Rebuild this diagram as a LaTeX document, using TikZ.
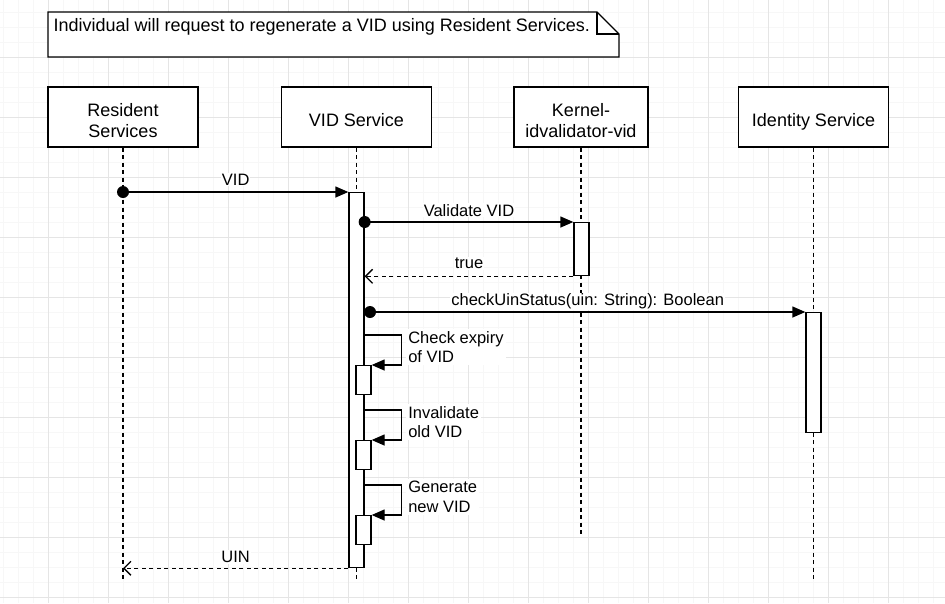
\documentclass[tikz,border=0pt]{standalone}
\usepackage{fontspec}
\setmainfont{Liberation Sans}
\usetikzlibrary{positioning}
\usetikzlibrary{arrows.meta}

\begin{document}
\begin{tikzpicture}[x=1pt,y=-1pt,node distance=10mm,on grid,line width=1.3pt,
		head/.style={rectangle,draw=black,fill=white,minimum width=150pt,minimum height=60pt,align=center,font=\fontsize{18pt}{21pt}\selectfont},
		oneline/.style={text height=18pt,text depth=0pt},
		twoline/.style={text height=41pt,text depth=0pt},
		act/.style={rectangle,draw=black,fill=white,minimum width=15pt,inner sep=0pt,anchor=north},
		life/.style={dash pattern=on 4pt off 3.5pt},
		call/.style={-{Triangle[length=13pt,width=11pt]}},
		reply/.style={dash pattern=on 4pt off 3.5pt,-{Straight Barb[length=7pt,width=14pt]}},
		lbl/.style={font=\fontsize{16.5pt}{19.5pt}\selectfont,fill=white,inner sep=1pt}]
		\useasboundingbox (0,0) rectangle (945,603);
		% grid
		\foreach \g in {3,18,...,933} \draw[line width=0.6pt,black!3] (\g,0) -- (\g,603);
		\foreach \g in {12,27,...,597} \draw[line width=0.6pt,black!3] (0,\g) -- (945,\g);
		\foreach \g in {48,108,...,888} \draw[line width=0.7pt,black!10] (\g,0) -- (\g,603);
		\foreach \g in {57,117,...,597} \draw[line width=0.7pt,black!10] (0,\g) -- (945,\g);
		
		% note
		\draw[fill=white] (48,12) -- (597,12) -- (619,34) -- (619,57) -- (48,57) -- cycle;
		\draw (597,12) -- (597,34) -- (619,34);
		\node[anchor=north west,inner sep=0pt,font=\fontsize{18pt}{21pt}\selectfont] (note) at (53,18) {Individual will request to regenerate a VID using Resident Services.};
		
		\node[head,twoline]  (res)                 at (123,117) {Resident\\Services};
		\node[head,oneline]  (vid)  [right=233.5pt of res]  {VID Service};
		\node[head,twoline,minimum width=134pt] (kern) [right=224.5pt of vid] {Kernel-\\idvalidator-vid};
		\node[head,oneline]  (ids)  [right=232.5pt of kern] {Identity Service};
		
		\coordinate (resend)  at (123,582);
		\coordinate (vidend)  at (356.5,582);
		\coordinate (kernend) at (581,537);
		\coordinate (idsend)  at (813.5,582);
		\draw[life] (res) -- (resend);
		\draw[life] (vid) -- (vidend);
		\draw[life] (kern) -- (kernend);
		\draw[life] (ids) -- (idsend);
		
		\node[act,minimum height=375pt] (vidbar)  at (356.5,192) {};
		\node[act,minimum height=53pt]  (kernbar) at (581.5,222) {};
		\node[act,minimum height=120pt] (idsbar)  at (813.5,312) {};
		\node[act,minimum height=29pt]  (chk1)    at (363.5,365) {};
		\node[act,minimum height=29pt]  (chk2)    at (363.5,440) {};
		\node[act,minimum height=29pt]  (chk3)    at (363.5,515) {};
		
		\coordinate (m1) at (res |- vidbar.north);
		\coordinate (m2) at (vidbar.east |- kernbar.north);
		\coordinate (m3) at (vidbar.east |- kernbar.south);
		\coordinate (m4) at (370,312);
		\coordinate (m5) at (res |- vidbar.south);
		\fill (m1) circle (6pt);
		\fill (m2) circle (6pt);
		\fill (m4) circle (6pt);
		
		\path[call]
		(m1) edge node[lbl,above=5pt]{VID} (vidbar.north west)
		(m2) edge node[lbl,above=4pt]{Validate VID} (kernbar.north west)
		(m4) edge node[lbl,above=1pt]{checkUinStatus(uin: String): Boolean} (idsbar.north west);
		\path[reply]
		(kernbar.south west) edge node[lbl,above=6pt]{true} (m3)
		(vidbar.south west) edge node[lbl,above=4pt]{UIN} (m5);
		
		% self calls
		\foreach \c/\t in {chk1/{Check expiry\\of VID},chk2/{Invalidate\\old VID},chk3/{Generate\\new VID}}{
			\path (vidbar.east |- \c.north) ++(0,-30) coordinate (\c in);
			\draw[call] (\c in) -- ++(37,0) |- (\c.north east);
			\node[lbl,align=left,anchor=west,inner sep=2pt] (\c txt) at ([xshift=41pt,yshift=-12pt]\c in) {\t};
		}
		\end{tikzpicture}
\end{document}
